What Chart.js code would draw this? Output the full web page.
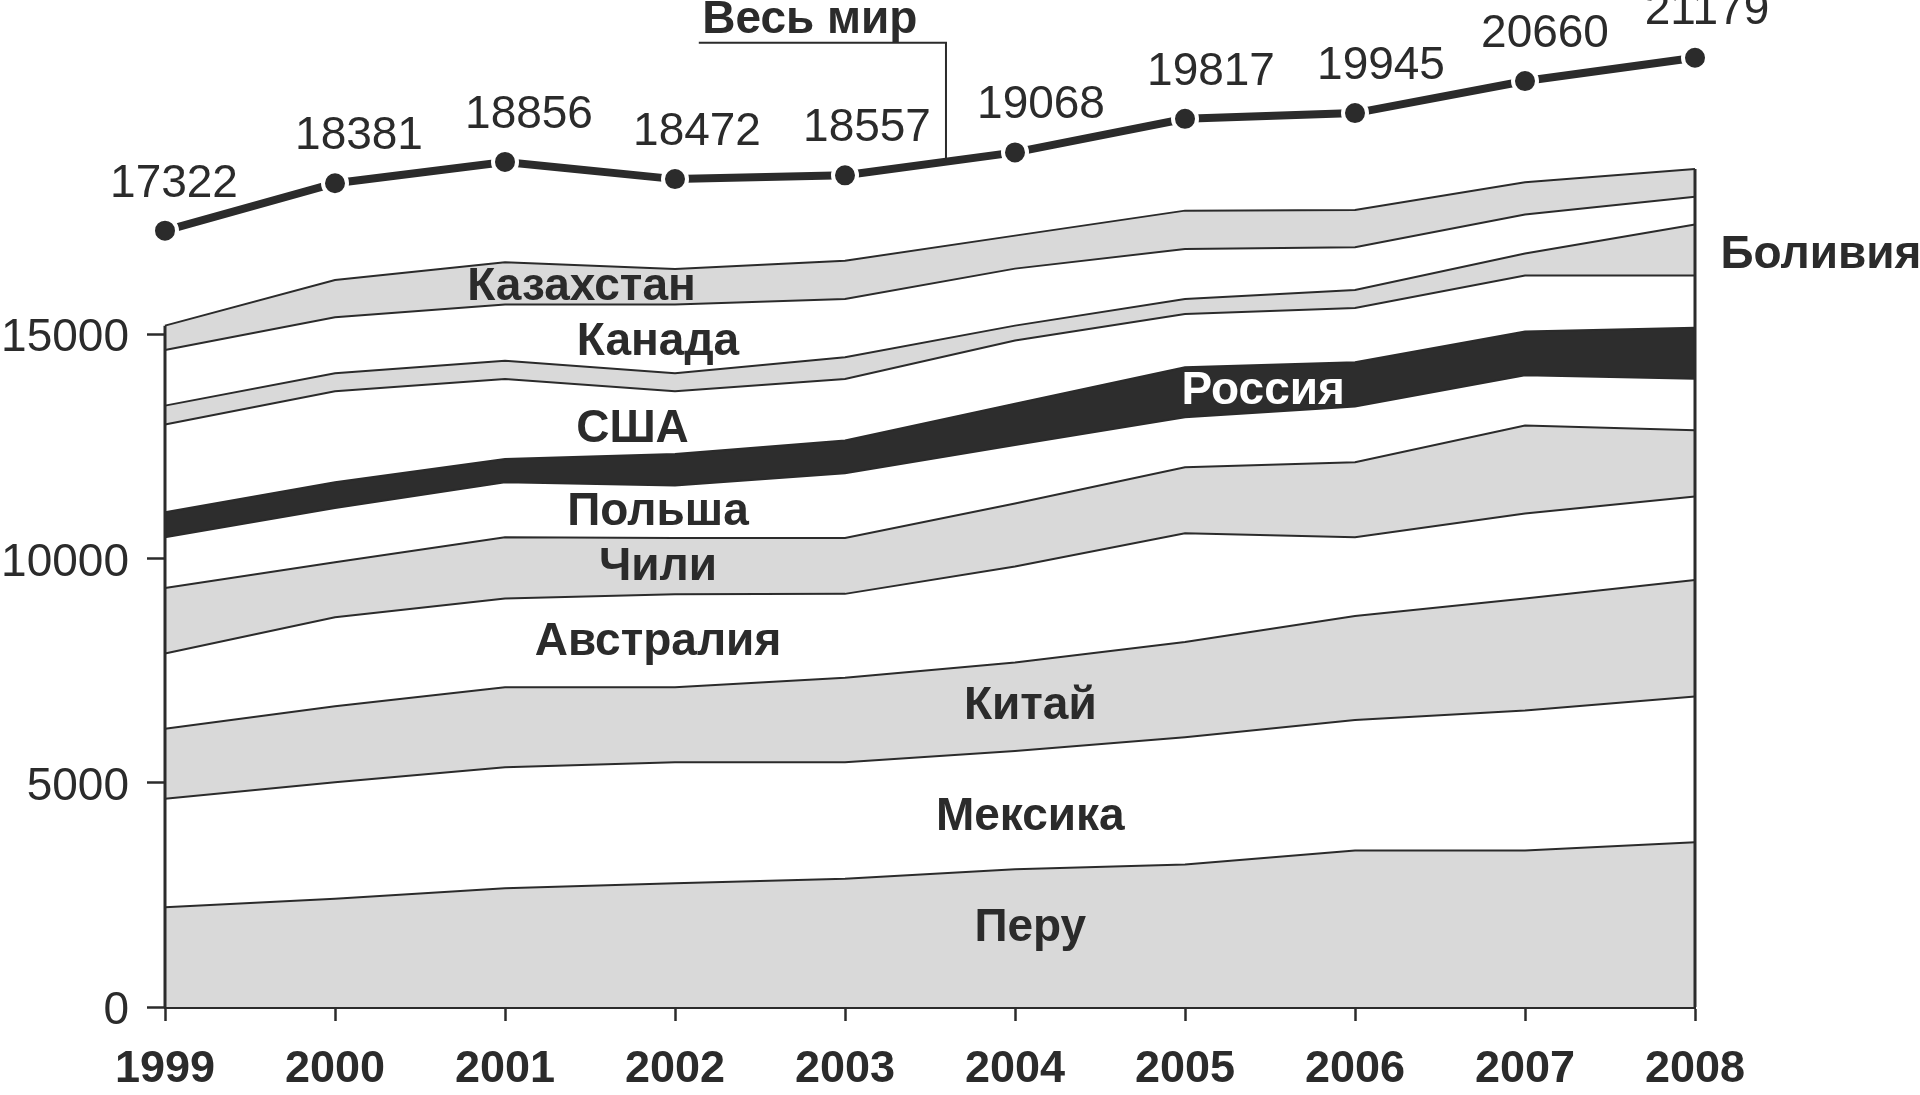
<!DOCTYPE html>
<html>
<head>
<meta charset="utf-8">
<script src="https://cdn.jsdelivr.net/npm/chart.js@4.4.1/dist/chart.umd.min.js"></script>
<style>
  html, body { margin: 0; padding: 0; background: #fff; }
  #wrap { width: 1920px; height: 1095px; }
</style>
</head>
<body>
<div id="wrap"><canvas id="silverChart"></canvas></div>
<script>
const years = ['1999', '2000', '2001', '2002', '2003', '2004', '2005', '2006', '2007', '2008']
const world = [17322, 18381, 18856, 18472, 18557, 19068, 19817, 19945, 20660, 21179]

// layers bottom to top
const peru = [2226, 2413, 2649, 2761, 2859, 3071, 3178, 3490, 3490, 3676]
const mexico = [2418, 2601, 2700, 2699, 2601, 2639, 2840, 2916, 3124, 3250]
const china = [1562, 1696, 1785, 1674, 1884, 1975, 2124, 2316, 2503, 2599]
const australia = [1680, 1985, 1979, 2075, 1874, 2142, 2427, 1758, 1892, 1868]
const chile = [1461, 1227, 1367, 1258, 1249, 1405, 1473, 1673, 1963, 1474]
const poland = [1133, 1214, 1227, 1167, 1441, 1305, 1115, 1243, 1122, 1152]
const russia = [558, 571, 522, 707, 730, 926, 1116, 988, 980, 1135]
const usa = [1957, 2030, 1785, 1396, 1376, 1406, 1191, 1214, 1245, 1169]
const bolivia = [423, 402, 408, 402, 482, 334, 335, 402, 491, 1134]
const canada = [1243, 1249, 1250, 1533, 1303, 1272, 1115, 950, 874, 624]
const kazakhstan = [542, 835, 943, 796, 854, 736, 855, 835, 716, 616]

const yTicks = [0, 5000, 10000, 15000]

const ink = '#2b2b2b'
const gray = '#d9d9d9'
const white = '#ffffff'
const black = '#2d2d2d'
const fontFamily = "'Liberation Sans', Arial, sans-serif"

Chart.defaults.font.family = fontFamily
Chart.defaults.color = ink

const layers = [
  { name: 'Перу', data: peru, bg: gray },
  { name: 'Мексика', data: mexico, bg: white },
  { name: 'Китай', data: china, bg: gray },
  { name: 'Австралия', data: australia, bg: white },
  { name: 'Чили', data: chile, bg: gray },
  { name: 'Польша', data: poland, bg: white },
  { name: 'Россия', data: russia, bg: black },
  { name: 'США', data: usa, bg: white },
  { name: 'Боливия', data: bolivia, bg: gray },
  { name: 'Канада', data: canada, bg: white },
  { name: 'Казахстан', data: kazakhstan, bg: gray },
]

// text placed inside the bands: at = year index, value = height of the cap centre
const bandLabels = [
  { text: 'Казахстан', at: 2.45, value: 16150 },
  { text: 'Канада', at: 2.9, value: 14910 },
  { text: 'США', at: 2.75, value: 12970 },
  { text: 'Россия', at: 6.46, value: 13820, color: '#fff' },
  { text: 'Польша', at: 2.9, value: 11120 },
  { text: 'Чили', at: 2.9, value: 9890 },
  { text: 'Австралия', at: 2.9, value: 8220 },
  { text: 'Китай', at: 5.09, value: 6790 },
  { text: 'Мексика', at: 5.09, value: 4316 },
  { text: 'Перу', at: 5.09, value: 1840 },
  { text: 'Боливия', at: 9.15, value: 16850, align: 'left' },
]

// horizontal nudge of each world total, px
const totalShift = [9, 24, 24, 22, 22, 26, 26, 26, 20, 12]

const datasets = layers.map((l, i) => ({
  label: l.name,
  data: l.data,
  backgroundColor: l.bg,
  borderColor: ink,
  borderWidth: 2,
  pointRadius: 0,
  tension: 0,
  fill: i === 0 ? 'origin' : '-1',
}))

datasets.push({
  label: 'Весь мир',
  data: world,
  stack: 'world',
  fill: false,
  borderColor: ink,
  borderWidth: 8,
  pointRadius: 12,
  pointBackgroundColor: ink,
  pointBorderColor: '#fff',
  pointBorderWidth: 4,
  tension: 0,
})

const worldIndex = datasets.length - 1

const annotations = {
  id: 'annotations',
  afterDatasetsDraw(chart) {
    const { ctx, scales: { x, y } } = chart
    const stackTop = i => layers.reduce((s, l) => s + l.data[i], 0)
    ctx.save()

    // left and right edges of the stack
    ctx.strokeStyle = ink
    ctx.lineWidth = 3
    ;[0, years.length - 1].forEach(i => {
      const px = x.getPixelForValue(i)
      ctx.beginPath()
      ctx.moveTo(px, y.getPixelForValue(0))
      ctx.lineTo(px, y.getPixelForValue(stackTop(i)))
      ctx.stroke()
    })

    // band names
    bandLabels.forEach(b => {
      const size = 46
      ctx.font = `bold ${size}px ${fontFamily}`
      ctx.fillStyle = b.color || ink
      ctx.textAlign = b.align || 'center'
      ctx.textBaseline = 'alphabetic'
      ctx.fillText(b.text, x.getPixelForValue(b.at), y.getPixelForValue(b.value) + size * 0.358)
    })

    // world totals above the points
    ctx.font = `46px ${fontFamily}`
    ctx.fillStyle = ink
    ctx.textAlign = 'center'
    chart.getDatasetMeta(worldIndex).data.forEach((pt, i) => {
      ctx.fillText(world[i], pt.x + totalShift[i], pt.y - 34)
    })

    // "Весь мир" caption with its leader line
    const lx0 = x.getPixelForValue(3.14)
    const lx1 = x.getPixelForValue(4.594)
    const ly = y.getPixelForValue(21515)
    const f = 0.594
    const yOnLine = y.getPixelForValue(world[4] + f * (world[5] - world[4]))
    ctx.lineWidth = 2
    ctx.beginPath()
    ctx.moveTo(lx0, ly)
    ctx.lineTo(lx1, ly)
    ctx.lineTo(lx1, yOnLine)
    ctx.stroke()
    ctx.font = `bold 46px ${fontFamily}`
    ctx.textAlign = 'left'
    ctx.fillText('Весь мир', x.getPixelForValue(3.16), y.getPixelForValue(21731))

    ctx.restore()
  }
}

new Chart(document.getElementById('silverChart'), {
  type: 'line',
  data: { labels: years, datasets },
  options: {
    responsive: true,
    maintainAspectRatio: false,
    animation: false,
    layout: { padding: { top: 21, right: 225, bottom: 0, left: 0 } },
    plugins: {
      legend: { display: false },
      tooltip: { enabled: false },
    },
    scales: {
      x: {
        afterFit: axis => {
          axis.height = 88
          axis.paddingLeft = 0
          axis.paddingRight = 0
        },
        grid: {
          drawOnChartArea: false,
          tickLength: 14,
          tickWidth: 2.5,
          tickColor: ink,
        },
        border: { display: true, color: ink, width: 3 },
        ticks: {
          padding: 22,
          color: ink,
          font: { size: 45, weight: 'bold' },
          maxRotation: 0,
        },
      },
      y: {
        stacked: true,
        min: 0,
        max: 22000,
        afterFit: axis => {
          axis.width = 165
          axis.paddingTop = 0
          axis.paddingBottom = 0
        },
        afterBuildTicks: axis => { axis.ticks = yTicks.map(v => ({ value: v })) },
        grid: {
          drawOnChartArea: false,
          tickLength: 18,
          tickWidth: 2.5,
          tickColor: ink,
        },
        border: { display: false },
        ticks: {
          padding: 18,
          labelOffset: 4,
          color: ink,
          font: { size: 46 },
          callback: v => String(v),
        },
      },
    },
  },
  plugins: [annotations],
})
</script>
</body>
</html>
